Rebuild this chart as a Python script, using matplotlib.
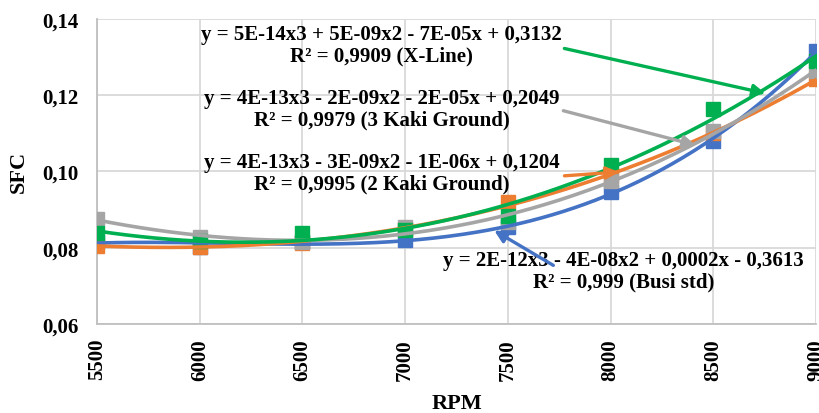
import matplotlib

matplotlib.use("Agg")
import matplotlib.pyplot as plt  # noqa: E402
import numpy as np  # noqa: E402

plt.rcParams["font.family"] = ["Liberation Serif", "DejaVu Serif"]
plt.rcParams["font.weight"] = "bold"

rpm = [5500, 6000, 6500, 7000, 7500, 8000, 8500, 9000]
busi_std = [0.0816, 0.0803, 0.0815, 0.0820, 0.0855, 0.0945, 0.1080, 0.1316]
kaki2 = [0.0805, 0.0803, 0.0813, 0.0850, 0.0921, 0.0987, 0.1100, 0.1242]
kaki3 = [0.0874, 0.0829, 0.0816, 0.0855, 0.0868, 0.0974, 0.1105, 0.1263]
xline = [0.0839, 0.0818, 0.0839, 0.0847, 0.0882, 0.1016, 0.1163, 0.1290]

series = [busi_std, kaki2, kaki3, xline]
colors = ["#4472C4", "#ED7D31", "#A5A5A5", "#00B050"]
equations = [
    "y = 2E-12x3 - 4E-08x2 + 0,0002x - 0,3613\nR² = 0,999 (Busi std)",
    "y = 4E-13x3 - 3E-09x2 - 1E-06x + 0,1204\nR² = 0,9995 (2 Kaki Ground)",
    "y = 4E-13x3 - 2E-09x2 - 2E-05x + 0,2049\nR² = 0,9979 (3 Kaki Ground)",
    "y = 5E-14x3 + 5E-09x2 - 7E-05x + 0,3132\nR² = 0,9909 (X-Line)",
]
# label centre (axes fraction), arrow tail and tip (data)
label_pos = [(0.732, 0.174), (0.396, 0.497), (0.396, 0.707), (0.396, 0.916)]
arrow_tail = [(7733, 0.0750), (7762, 0.0988), (7757, 0.1161), (7762, 0.1324)]
arrow_tip = [(7422, 0.0849), (8053, 0.0999), (8427, 0.1067), (8767, 0.1203)]

yticks = [0.06, 0.08, 0.10, 0.12, 0.14]
ytick_labels = ["0,06", "0,08", "0,10", "0,12", "0,14"]

fig = plt.figure(figsize=(8.19, 4.14), dpi=100)
ax = fig.add_axes([0.1185, 0.215, 0.8778, 0.737])

x = np.array(rpm, dtype=float)
for vals, c in zip(series, colors):
    ax.plot(rpm, vals, "s", color=c, markersize=10, zorder=3)
xs = np.linspace(x.min(), x.max(), 200)
for vals, c in zip(series, colors):
    xn = (x - 7250) / 1000
    coef = np.polyfit(xn, vals, 3)
    ax.plot(xs, np.polyval(coef, (xs - 7250) / 1000), color=c, lw=2.6, zorder=4)

for eq, pos, tail, tip, c in zip(equations, label_pos, arrow_tail, arrow_tip, colors):
    ax.text(pos[0], pos[1], eq, transform=ax.transAxes, ha="center", va="center",
            fontsize=15, fontweight="bold", linespacing=1.1, zorder=5)
    ax.annotate("", xy=tip, xytext=tail,
                arrowprops=dict(arrowstyle="-|>", color=c, lw=2.4, mutation_scale=18),
                zorder=6)

ax.set_xlim(5500, 9000)
ax.set_ylim(0.06, 0.14)
ax.set_xticks(rpm)
ax.set_xticklabels([str(r) for r in rpm], rotation=90, fontsize=15, fontweight="bold")
ax.set_yticks(yticks)
ax.set_yticklabels(ytick_labels, fontsize=15, fontweight="bold")
ax.tick_params(axis="y", length=0, pad=13)
ax.tick_params(axis="x", length=0, pad=10)
ax.set_xlabel("RPM", fontsize=16, fontweight="bold", labelpad=10)
ax.set_ylabel("SFC", fontsize=16, fontweight="bold", labelpad=10)
ax.grid(color="#D9D9D9", lw=1.3)
ax.set_axisbelow(True)
for s in ["top", "right"]:
    ax.spines[s].set_visible(False)
for s in ["left", "bottom"]:
    ax.spines[s].set_color("#BFBFBF")
    ax.spines[s].set_linewidth(1.3)

fig.savefig("out.png", dpi=100)
